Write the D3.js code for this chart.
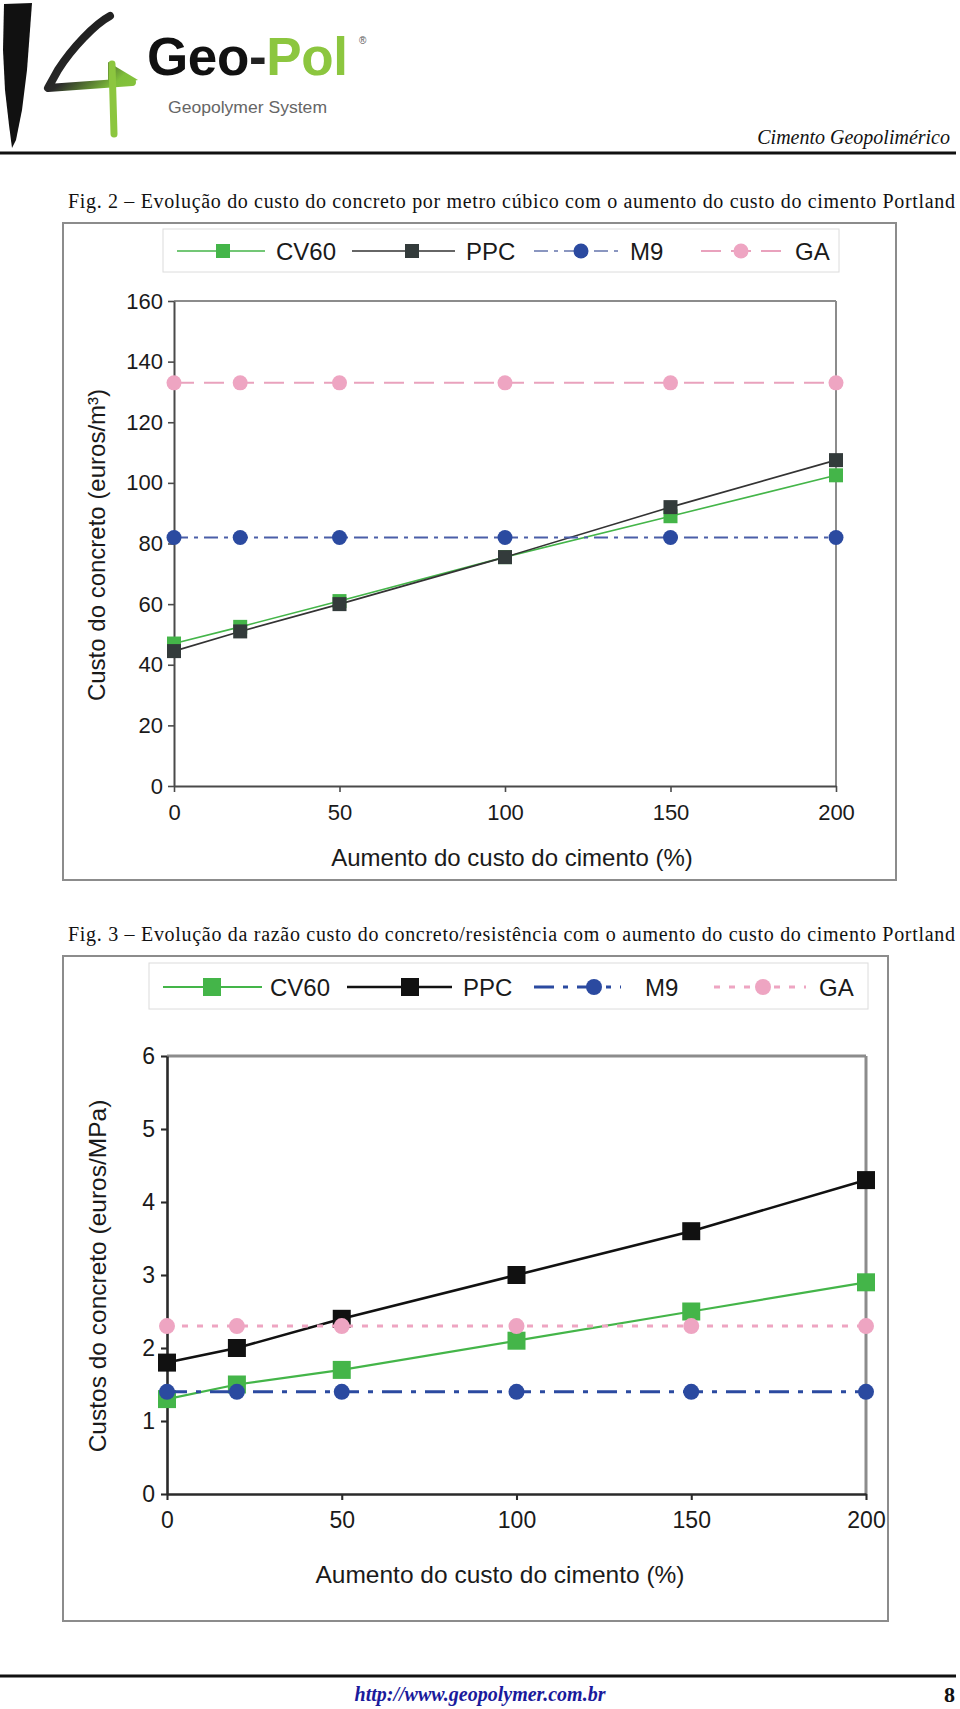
<!DOCTYPE html>
<html><head><meta charset="utf-8">
<script src="https://cdn.jsdelivr.net/npm/d3@7"></script>
<style>body{margin:0;background:#fff} svg{display:block}</style>
</head><body>
<svg id="page" width="960" height="1709"></svg>
<script>
// ---------- DATA ----------
const seriesNames = ["CV60", "PPC", "M9", "GA"];
const xValues = [0, 20, 50, 100, 150, 200];
const xTicks = [0, 50, 100, 150, 200];

// Fig. 2 – custo por m3
const fig2YTicks = [0, 20, 40, 60, 80, 100, 120, 140, 160];
const fig2CV60 = [47, 52.5, 61, 75.5, 89, 102.5];
const fig2PPC  = [44.5, 51, 60, 75.5, 92, 107.5];
const fig2M9   = [82, 82, 82, 82, 82, 82];
const fig2GA   = [133, 133, 133, 133, 133, 133];

// Fig. 3 – custo / resistência
const fig3YTicks = [0, 1, 2, 3, 4, 5, 6];
const fig3CV60 = [1.3, 1.5, 1.7, 2.1, 2.5, 2.9];
const fig3PPC  = [1.8, 2.0, 2.4, 3.0, 3.6, 4.3];
const fig3M9   = [1.4, 1.4, 1.4, 1.4, 1.4, 1.4];
const fig3GA   = [2.3, 2.3, 2.3, 2.3, 2.3, 2.3];

const caption2 = "Fig. 2 – Evolução do custo do concreto por metro cúbico com o aumento do custo do cimento Portland";
const caption3 = "Fig. 3 – Evolução da razão custo do concreto/resistência com o aumento do custo do cimento Portland";
const xTitle = "Aumento do custo do cimento (%)";
const yTitle2 = "Custo do concreto (euros/m³)";
const yTitle3 = "Custos do concreto (euros/MPa)";

// ---------- PAGE ----------
const svg = d3.select("#page");
const SANS = "'Liberation Sans', Arial, sans-serif";
const SERIF = "'Liberation Serif', 'Times New Roman', serif";

// logo
const defs = svg.append("defs");
const grad = defs.append("linearGradient").attr("id", "g4").attr("gradientUnits", "userSpaceOnUse")
  .attr("x1", 50).attr("y1", 20).attr("x2", 130).attr("y2", 110);
grad.append("stop").attr("offset", "0").attr("stop-color", "#111");
grad.append("stop").attr("offset", "0.45").attr("stop-color", "#2a2a2a");
grad.append("stop").attr("offset", "0.75").attr("stop-color", "#7fbf3a");
grad.append("stop").attr("offset", "1").attr("stop-color", "#8cc63f");
svg.append("path").attr("d", "M4,4 L32,3 L30,30 L27,70 L22,110 L16,140 L12,148 L9,125 L5,90 L3,50 Z").attr("fill", "#111");
svg.append("path").attr("d", "M110,16 C95,24 72,48 58,70 L48,88 L132,82")
  .attr("fill", "none").attr("stroke", "url(#g4)").attr("stroke-width", 8).attr("stroke-linecap", "round").attr("stroke-linejoin", "round");
svg.append("path").attr("d", "M108,62 L138,80 L108,86 Z").attr("fill", "url(#g4)");
svg.append("path").attr("d", "M112,64 L114,134").attr("fill", "none").attr("stroke", "#8cc63f").attr("stroke-width", 7).attr("stroke-linecap", "round");
const logoT = svg.append("text").attr("x", 147).attr("y", 75).attr("font-family", SANS).attr("font-weight", "bold").attr("font-size", 53)
  .attr("textLength", 201).attr("lengthAdjust", "spacing");
logoT.append("tspan").attr("fill", "#111").text("Geo");
logoT.append("tspan").attr("fill", "#222").text("-");
logoT.append("tspan").attr("fill", "#8cc63f").text("Pol");
svg.append("text").attr("x", 359).attr("y", 44).attr("font-family", SANS).attr("font-size", 10).attr("fill", "#555").text("®");
svg.append("text").attr("x", 168).attr("y", 113).attr("font-family", SANS).attr("font-size", 17).attr("fill", "#666")
  .attr("textLength", 159).attr("lengthAdjust", "spacingAndGlyphs").text("Geopolymer System");
svg.append("text").attr("x", 950).attr("y", 144).attr("text-anchor", "end").attr("font-family", SERIF).attr("font-style", "italic")
  .attr("font-size", 20).attr("fill", "#111").text("Cimento Geopolimérico");
svg.append("line").attr("x1", 0).attr("x2", 956).attr("y1", 153).attr("y2", 153).attr("stroke", "#111").attr("stroke-width", 3);

// captions
svg.append("text").attr("x", 68).attr("y", 208).attr("font-family", SERIF).attr("font-size", 20).attr("fill", "#111")
  .attr("textLength", 887).attr("lengthAdjust", "spacing").text(caption2);
svg.append("text").attr("x", 68).attr("y", 941).attr("font-family", SERIF).attr("font-size", 20).attr("fill", "#111")
  .attr("textLength", 887).attr("lengthAdjust", "spacing").text(caption3);

// footer
svg.append("line").attr("x1", 0).attr("x2", 956).attr("y1", 1676).attr("y2", 1676).attr("stroke", "#111").attr("stroke-width", 3);
svg.append("text").attr("x", 480).attr("y", 1701).attr("text-anchor", "middle").attr("font-family", SERIF).attr("font-style", "italic")
  .attr("font-weight", "bold").attr("font-size", 20).attr("fill", "#1a1a9c").text("http://www.geopolymer.com.br");
svg.append("text").attr("x", 955).attr("y", 1702).attr("text-anchor", "end").attr("font-family", SERIF)
  .attr("font-weight", "bold").attr("font-size", 22).attr("fill", "#111").text("8");

// ---------- CHART ----------
function marker(g, type, cx, cy, size, color) {
  if (type === "square") {
    g.append("rect").attr("x", cx - size / 2).attr("y", cy - size / 2).attr("width", size).attr("height", size).attr("fill", color);
  } else {
    g.append("circle").attr("cx", cx).attr("cy", cy).attr("r", size / 2).attr("fill", color);
  }
}

function drawChart(c) {
  const g = svg.append("g");
  g.append("rect").attr("x", c.frame[0]).attr("y", c.frame[1]).attr("width", c.frame[2]).attr("height", c.frame[3])
    .attr("fill", "#fff").attr("stroke", "#8c8c8c").attr("stroke-width", 2);
  g.append("rect").attr("x", c.legend[0]).attr("y", c.legend[1]).attr("width", c.legend[2]).attr("height", c.legend[3])
    .attr("fill", "#fff").attr("stroke", "#dcdcdc").attr("stroke-width", 1);

  const x = d3.scaleLinear().domain([0, 200]).range([c.plot.l, c.plot.r]);
  const yMax = c.yTicks[c.yTicks.length - 1];
  const y = d3.scaleLinear().domain([0, yMax]).range([c.plot.b, c.plot.t]);

  // top & right borders
  g.append("line").attr("x1", x(0)).attr("x2", x(200)).attr("y1", y(yMax)).attr("y2", y(yMax))
    .attr("stroke", c.borderColor).attr("stroke-width", c.borderWidth);
  g.append("line").attr("x1", x(200)).attr("x2", x(200)).attr("y1", y(yMax)).attr("y2", y(0))
    .attr("stroke", c.borderColor).attr("stroke-width", c.borderWidth);

  const ya = g.append("g").attr("transform", `translate(${c.plot.l},0)`)
    .call(d3.axisLeft(y).tickValues(c.yTicks).tickFormat(d3.format("d")).tickSize(6).tickSizeOuter(0).tickPadding(c.yPad));
  const xa = g.append("g").attr("transform", `translate(0,${c.plot.b})`)
    .call(d3.axisBottom(x).tickValues(xTicks).tickFormat(d3.format("d")).tickSize(6).tickSizeOuter(0).tickPadding(c.xPad));
  [ya, xa].forEach(a => {
    a.attr("font-family", SANS).attr("font-size", c.tickFont);
    a.select(".domain").attr("stroke", c.axisColor).attr("stroke-width", c.axisWidth);
    a.selectAll(".tick line").attr("stroke", c.axisColor).attr("stroke-width", c.axisWidth * 0.8);
    a.selectAll(".tick text").attr("fill", "#1a1a1a");
  });

  // titles
  g.append("text").attr("transform", `translate(${c.yTitlePos[0]},${c.yTitlePos[1]}) rotate(-90)`).attr("text-anchor", "middle")
    .attr("dominant-baseline", "central").attr("font-family", SANS).attr("font-size", c.titleFont).attr("fill", "#1a1a1a").text(c.yTitle);
  g.append("text").attr("x", c.xTitlePos[0]).attr("y", c.xTitlePos[1]).attr("text-anchor", "middle")
    .attr("font-family", SANS).attr("font-size", c.titleFont).attr("fill", "#1a1a1a").text(xTitle);

  const line = d3.line().x(d => x(d[0])).y(d => y(d[1]));
  c.series.forEach(s => {
    const data = xValues.map((xv, i) => [xv, s.values[i]]);
    g.append("path").datum(data).attr("d", line).attr("fill", "none").attr("stroke", s.lineColor)
      .attr("stroke-width", s.width).attr("stroke-dasharray", s.dash || null);
    data.forEach(d => marker(g, s.marker, x(d[0]), y(d[1]), s.size, s.color));
  });

  // legend entries
  c.series.forEach((s, i) => {
    const it = c.legendItems[i];
    g.append("line").attr("x1", it[0]).attr("x2", it[1]).attr("y1", c.legendY).attr("y2", c.legendY)
      .attr("stroke", s.legendLineColor || s.lineColor).attr("stroke-width", s.width).attr("stroke-dasharray", s.dash || null);
    marker(g, s.marker, it[2], c.legendY, s.size, s.color);
    g.append("text").attr("x", it[3]).attr("y", c.legendY).attr("dominant-baseline", "central")
      .attr("font-family", SANS).attr("font-size", c.legendFont).attr("fill", "#1a1a1a").text(seriesNames[i]);
  });
}

drawChart({
  frame: [63, 223, 833, 657],
  legend: [163, 229, 676, 43],
  legendY: 251,
  legendFont: 24,
  legendItems: [[177, 265, 223, 276], [352, 455, 412, 466], [534, 621, 581, 630], [701, 785, 741, 795]],
  plot: { l: 174, r: 836, t: 301, b: 786 },
  yTicks: fig2YTicks, yPad: 5, xPad: 12,
  tickFont: 22, titleFont: 24,
  axisColor: "#4a4a4a", axisWidth: 2, borderColor: "#8c8c8c", borderWidth: 2,
  yTitle: yTitle2, yTitlePos: [96, 545], xTitlePos: [512, 866],
  series: [
    { values: fig2CV60, marker: "square", size: 14, color: "#44b549", lineColor: "#44b549", width: 1.6 },
    { values: fig2PPC, marker: "square", size: 14, color: "#333b3b", lineColor: "#333", width: 1.6 },
    { values: fig2M9, marker: "circle", size: 15, color: "#2b4aa0", lineColor: "#4a5ea8", legendLineColor: "#8a96c0", width: 2, dash: "14,6,4,6" },
    { values: fig2GA, marker: "circle", size: 15, color: "#eea5c2", lineColor: "#e9a2bd", width: 2, dash: "20,10" }
  ]
});

drawChart({
  frame: [63, 956, 825, 665],
  legend: [149, 963, 719, 46],
  legendY: 987,
  legendFont: 24,
  legendItems: [[163, 262, 212, 270], [347, 452, 410, 463], [534, 621, 594, 645], [714, 806, 763, 819]],
  plot: { l: 167, r: 866, t: 1056, b: 1494 },
  yTicks: fig3YTicks, yPad: 6, xPad: 12,
  tickFont: 23, titleFont: 24.5,
  axisColor: "#2a2a2a", axisWidth: 2.6, borderColor: "#8c8c8c", borderWidth: 3,
  yTitle: yTitle3, yTitlePos: [97, 1276], xTitlePos: [500, 1583],
  series: [
    { values: fig3CV60, marker: "square", size: 18, color: "#44b549", lineColor: "#44b549", width: 2.2 },
    { values: fig3PPC, marker: "square", size: 18, color: "#111", lineColor: "#111", width: 2.6 },
    { values: fig3M9, marker: "circle", size: 16, color: "#2b4aa0", lineColor: "#2b4aa0", width: 3, dash: "20,9,5,9" },
    { values: fig3GA, marker: "circle", size: 16, color: "#eea5c2", lineColor: "#eea5c2", width: 3, dash: "6,9" }
  ]
});
</script>
</body></html>
